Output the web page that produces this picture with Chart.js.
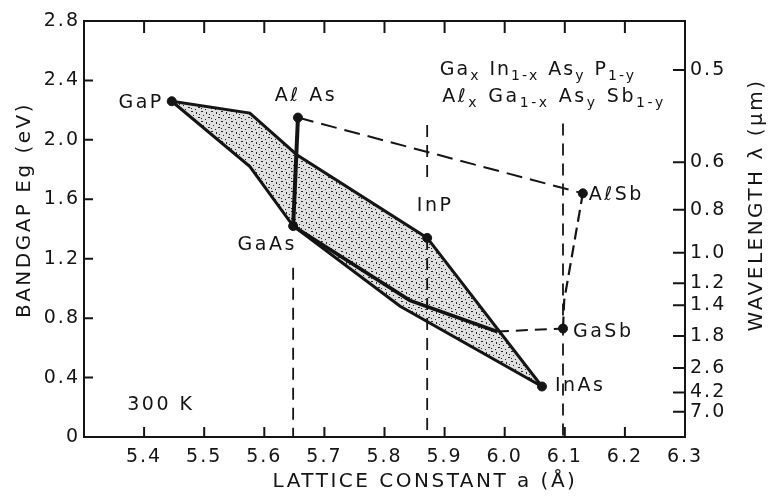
<!DOCTYPE html>
<html>
<head>
<meta charset="utf-8">
<script src="https://cdn.jsdelivr.net/npm/chart.js@4.4.1/dist/chart.umd.min.js"></script>
<style>
  html, body { margin: 0; padding: 0; background: #fff; }
  #wrap { width: 769px; height: 497px; }
</style>
</head>
<body>
<div id="wrap"><canvas id="bandgapChart"></canvas></div>
<script>
// binary compounds: lattice constant a (Å) and bandgap Eg (eV) at 300 K
const compounds = ['GaP', 'Aℓ As', 'GaAs', 'InP', 'AℓSb', 'GaSb', 'InAs'];
const latticeA  = [5.446, 5.656, 5.648, 5.871, 6.130, 6.097, 6.062];
const bandgapEg = [2.26, 2.15, 1.42, 1.34, 1.64, 0.73, 0.34];

// outline of the stippled region (upper and lower boundary)
const upperEdgeA  = [5.446, 5.576, 5.654, 5.871, 6.062];
const upperEdgeEg = [2.26, 2.18, 1.90, 1.34, 0.34];
const lowerEdgeA  = [5.446, 5.576, 5.648, 5.826, 6.062];
const lowerEdgeEg = [2.26, 1.82, 1.42, 0.88, 0.34];

// branch from GaAs into the region, then dashed on to GaSb
const innerA  = [5.648, 5.842, 5.987];
const innerEg = [1.42, 0.92, 0.71];
const toGaSbA  = [5.987, 6.097];
const toGaSbEg = [0.71, 0.73];
const gaSbAlSbA  = [6.097, 6.099, 6.130];
const gaSbAlSbEg = [0.73, 0.92, 1.64];

// vertical dashed lines at the substrate lattice constants
const vLineA      = [5.648, 5.871, 5.871, 6.097];
const vLineTopEg  = [1.14, 2.10, 1.34, 2.11];
const vLineLowEg  = [0, 1.73, 0, 0];

// axes
const xTickValues = [5.4, 5.5, 5.6, 5.7, 5.8, 5.9, 6.0, 6.1, 6.2, 6.3];
const xTickLabels = ['5.4', '5.5', '5.6', '5.7', '5.8', '5.9', '6.0', '6.1', '6.2', '6.3'];
const yTickValues = [0, 0.4, 0.8, 1.2, 1.6, 2.0, 2.4, 2.8];
const yTickLabels = ['0', '0.4', '0.8', '1.2', '1.6', '2.0', '2.4', '2.8'];
// wavelength scale on the right, placed at the matching bandgap
const wlTickEg     = [2.47, 1.85, 1.53, 1.24, 1.035, 0.887, 0.68, 0.464, 0.30, 0.17];
const wlTickLabels = ['0.5', '0.6', '0.8', '1.0', '1.2', '1.4', '1.8', '2.6', '4.2', '7.0'];

// label placement next to each compound point: dx, dy, align
const labelOffsets = [[-8, 2, 'right'], [8, -22, 'center'], [-26, 19, 'center'], [8, -32, 'center'],
                      [6, 2, 'left'], [10, 4, 'left'], [13, 0, 'left']];

const ink = '#151515';
const FONT = "'DejaVu Sans', sans-serif";

const pts = (xs, ys) => xs.map((x, i) => ({x: x, y: ys[i]}));

const canvas = document.getElementById('bandgapChart');
const ctx0 = canvas.getContext('2d');

// stipple fill for the region
function stipple() {
  const t = document.createElement('canvas');
  t.width = 10; t.height = 10;
  const g = t.getContext('2d');
  g.fillStyle = 'rgba(0,0,0,0.12)';
  g.fillRect(0, 0, 10, 10);
  g.fillStyle = 'rgba(20,20,20,0.9)';
  [[1, 1, 2, 1], [6, 2, 1, 2], [3, 5, 1, 1], [8, 7, 2, 1], [1, 8, 1, 1], [5, 9, 1, 1], [9, 4, 1, 1]]
    .forEach(d => g.fillRect(d[0], d[1], d[2], d[3]));
  return ctx0.createPattern(t, 'repeat');
}

const lineDs = (data, width, dash) => ({
  data: data, showLine: true, borderColor: ink, borderWidth: width,
  borderDash: dash || [], pointRadius: 0, fill: false, tension: 0
});

const datasets = [];
datasets.push(Object.assign(lineDs(pts(upperEdgeA, upperEdgeEg), 3), {fill: '+1', backgroundColor: stipple()}));
datasets.push(lineDs(pts(lowerEdgeA, lowerEdgeEg), 3));
datasets.push(lineDs(pts(innerA, innerEg), 3.5));
datasets.push(lineDs([{x: latticeA[1], y: bandgapEg[1]}, {x: latticeA[2], y: bandgapEg[2]}], 4));
datasets.push(lineDs([{x: latticeA[1], y: bandgapEg[1]}, {x: latticeA[4], y: bandgapEg[4]}], 2, [16, 8]));
datasets.push(lineDs(pts(toGaSbA, toGaSbEg), 2, [12, 7]));
datasets.push(lineDs(pts(gaSbAlSbA, gaSbAlSbEg), 2.2, [12, 6]));
vLineA.forEach((a, i) => {
  datasets.push(lineDs([{x: a, y: vLineTopEg[i]}, {x: a, y: vLineLowEg[i]}], 1.8, [12, 8]));
});
datasets.push({
  data: pts(latticeA, bandgapEg), showLine: false,
  pointRadius: 4.5, pointBackgroundColor: ink, pointBorderColor: ink
});

function spaced(ctx, px) { ctx.letterSpacing = px + 'px'; }

function richLine(ctx, parts, x, y, size, subSize) {
  let cx = x;
  parts.forEach((p, i) => {
    ctx.font = (p[1] ? subSize : size) + 'px ' + FONT;
    ctx.fillText(p[0], cx, p[1] ? y + 5 : y);
    cx += ctx.measureText(p[0]).width;
    if (p[1] && i < parts.length - 1) cx += 9;
  });
}

const formulaLines = [
  [['Ga', 0], ['x', 1], ['In', 0], ['1-x', 1], ['As', 0], ['y', 1], ['P', 0], ['1-y', 1]],
  [['Aℓ', 0], ['x', 1], ['Ga', 0], ['1-x', 1], ['As', 0], ['y', 1], ['Sb', 0], ['1-y', 1]]
];

const decor = {
  id: 'decor',
  beforeDraw(chart) {
    const c = chart.ctx;
    c.save();
    c.fillStyle = '#fff';
    c.fillRect(0, 0, chart.width, chart.height);
    c.restore();
    spaced(c, 2);
  },
  afterDatasetsDraw(chart) {
    const {ctx: c, chartArea: a, scales} = chart;
    c.save();
    c.strokeStyle = ink;
    c.lineWidth = 2;
    c.strokeRect(a.left, a.top, a.right - a.left, a.bottom - a.top);
    c.beginPath();
    xTickValues.slice(0, -1).forEach(v => {
      const px = scales.x.getPixelForValue(v);
      c.moveTo(px, a.bottom); c.lineTo(px, a.bottom - 10);
      c.moveTo(px, a.top); c.lineTo(px, a.top + 12);
    });
    yTickValues.slice(1, -1).forEach(v => {
      const py = scales.y.getPixelForValue(v);
      c.moveTo(a.left, py); c.lineTo(a.left + 9, py);
    });
    wlTickEg.forEach(v => {
      const py = scales.y2.getPixelForValue(v);
      c.moveTo(a.right, py); c.lineTo(a.right - 12, py);
    });
    c.stroke();

    // compound labels
    c.fillStyle = ink;
    c.textBaseline = 'middle';
    c.font = '19px ' + FONT;
    spaced(c, 2.5);
    compounds.forEach((name, i) => {
      const o = labelOffsets[i];
      c.textAlign = o[2];
      c.fillText(name, scales.x.getPixelForValue(latticeA[i]) + o[0],
                 scales.y.getPixelForValue(bandgapEg[i]) + o[1]);
    });
    c.textAlign = 'left';
    c.fillText('300 K', scales.x.getPixelForValue(5.372), scales.y.getPixelForValue(0.215));

    // alloy formulas
    c.textBaseline = 'alphabetic';
    spaced(c, 2);
    richLine(c, formulaLines[0], scales.x.getPixelForValue(5.892), scales.y.getPixelForValue(2.437), 19, 14);
    spaced(c, 2.6);
    richLine(c, formulaLines[1], scales.x.getPixelForValue(5.896), scales.y.getPixelForValue(2.255), 19, 14);

    // axis titles
    c.font = '20px ' + FONT;
    spaced(c, 2.5);
    c.textAlign = 'center';
    c.textBaseline = 'middle';
    c.fillText('LATTICE CONSTANT a (Å)', 425, 482);
    c.save();
    c.translate(25, 210);
    c.rotate(-Math.PI / 2);
    c.fillText('BANDGAP Eg (eV)', 0, 0);
    c.restore();
    c.save();
    c.translate(757, 205);
    c.rotate(-Math.PI / 2);
    c.fillText('WAVELENGTH λ (μm)', 0, 0);
    c.restore();
    c.restore();
  }
};

const tickFont = {family: FONT, size: 19};

new Chart(canvas, {
  type: 'scatter',
  data: {datasets: datasets},
  options: {
    responsive: true,
    maintainAspectRatio: false,
    animation: false,
    layout: {padding: {top: 21}},
    plugins: {legend: {display: false}, tooltip: {enabled: false}},
    scales: {
      x: {
        type: 'linear', position: 'bottom', min: 5.3, max: 6.3,
        afterBuildTicks: s => { s.ticks = xTickValues.map(v => ({value: v})); },
        afterFit: s => { s.height = 60; },
        grid: {display: false, drawTicks: false}, border: {display: false},
        ticks: {color: ink, font: tickFont, padding: 9, autoSkip: false, maxRotation: 0,
                callback: (v, i) => xTickLabels[i]}
      },
      y: {
        type: 'linear', position: 'left', min: 0, max: 2.8,
        afterBuildTicks: s => { s.ticks = yTickValues.map(v => ({value: v})); },
        afterFit: s => { s.width = 84; },
        grid: {display: false, drawTicks: false}, border: {display: false},
        ticks: {color: ink, font: tickFont, padding: 4, callback: (v, i) => yTickLabels[i]}
      },
      y2: {
        type: 'linear', position: 'right', min: 0, max: 2.8,
        afterBuildTicks: s => { s.ticks = wlTickEg.map(v => ({value: v})); },
        afterFit: s => { s.width = 84; },
        grid: {display: false, drawTicks: false}, border: {display: false},
        ticks: {color: ink, font: tickFont, padding: 5, autoSkip: false,
                callback: (v, i) => wlTickLabels[i]}
      }
    }
  },
  plugins: [decor]
});
</script>
</body>
</html>
